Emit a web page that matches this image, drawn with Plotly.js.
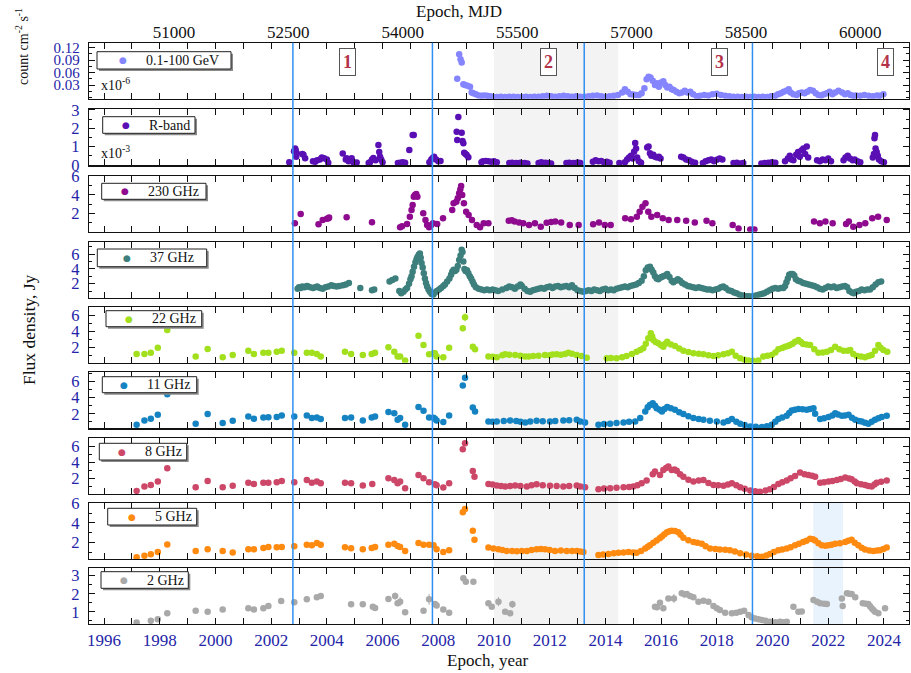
<!DOCTYPE html>
<html><head><meta charset="utf-8">
<script src="https://cdn.plot.ly/plotly-3.0.1.min.js"></script>
<style>html,body{margin:0;padding:0;background:#fff}#chart{width:911px;height:673px}</style>
</head><body><div id="chart"></div>
<script>
// ---------- DATA (decimal year, flux) ----------
const seriesNames = ['0.1-100 GeV','R-band','230 GHz','37 GHz','22 GHz','11 GHz','8 GHz','5 GHz','2 GHz'];

const xGam = [2008.68,2008.75,2008.80,2008.84,2008.90,2008.96,2009.05,2009.14,2009.20,2009.26,2009.35,2009.45,2009.55,2009.65,2009.75,2009.85,2009.95,2010.1,2010.25,2010.4,2010.55,2010.7,2010.85,2011.0,2011.15,2011.3,2011.45,2011.6,2011.75,2011.9,2012.05,2012.2,2012.35,2012.5,2012.65,2012.8,2012.95,2013.1,2013.25,2013.4,2013.55,2013.7,2013.85,2014.0,2014.15,2014.3,2014.45,2014.6,2014.7,2014.8,2014.9,2015.0,2015.1,2015.2,2015.3,2015.4,2015.48,2015.55,2015.62,2015.7,2015.78,2015.85,2015.92,2016.0,2016.08,2016.15,2016.22,2016.3,2016.38,2016.45,2016.55,2016.65,2016.75,2016.85,2016.95,2017.05,2017.15,2017.28,2017.4,2017.55,2017.7,2017.85,2018.0,2018.15,2018.3,2018.45,2018.6,2018.75,2018.9,2019.05,2019.2,2019.35,2019.5,2019.65,2019.8,2019.95,2020.1,2020.2,2020.3,2020.4,2020.5,2020.58,2020.65,2020.75,2020.87,2020.95,2021.05,2021.15,2021.25,2021.35,2021.45,2021.55,2021.65,2021.75,2021.85,2021.95,2022.05,2022.15,2022.25,2022.37,2022.5,2022.6,2022.7,2022.8,2022.9,2023.0,2023.15,2023.3,2023.45,2023.6,2023.75,2023.85,2023.98];
const yGam = [0.045,0.104,0.092,0.084,0.032,0.030,0.028,0.026,0.012,0.010,0.008,0.005,0.004,0.005,0.004,0.003,0.002,0.001,0.002,0.001,0.002,0.002,0.001,0.001,0.002,0.001,0.002,0.002,0.003,0.004,0.003,0.002,0.003,0.004,0.003,0.002,0.003,0.002,0.002,0.003,0.004,0.005,0.003,0.002,0.003,0.004,0.006,0.012,0.020,0.014,0.008,0.007,0.006,0.006,0.010,0.022,0.044,0.050,0.048,0.040,0.030,0.034,0.026,0.036,0.039,0.030,0.024,0.026,0.020,0.018,0.014,0.010,0.012,0.016,0.012,0.014,0.008,0.003,0.004,0.006,0.005,0.008,0.009,0.006,0.004,0.003,0.002,0.002,0.001,0.002,0.001,0.002,0.001,0.002,0.001,0.003,0.004,0.008,0.010,0.014,0.016,0.020,0.012,0.008,0.006,0.010,0.012,0.010,0.014,0.018,0.016,0.010,0.006,0.005,0.008,0.010,0.014,0.008,0.012,0.016,0.012,0.008,0.010,0.006,0.004,0.005,0.004,0.006,0.004,0.003,0.005,0.004,0.008];

const xR = [2002.65,2002.82,2002.86,2002.88,2002.9,2002.92,2003.12,2003.16,2003.22,2003.5,2003.58,2003.65,2003.75,2003.82,2003.9,2004.0,2004.05,2004.57,2004.68,2004.71,2004.78,2004.89,2004.95,2005.07,2005.5,2005.55,2005.62,2005.67,2005.75,2005.85,2005.88,2005.91,2005.95,2006.0,2006.55,2006.63,2006.72,2006.81,2006.96,2007.08,2007.12,2007.68,2007.75,2007.8,2007.85,2007.92,2008.0,2008.08,2008.66,2008.68,2008.72,2008.84,2008.87,2008.9,2008.93,2008.98,2009.02,2009.08,2009.55,2009.6,2009.7,2009.8,2009.9,2010.0,2010.1,2010.55,2010.65,2010.8,2010.95,2011.1,2011.2,2011.6,2011.7,2011.85,2011.95,2012.05,2012.6,2012.7,2012.85,2013.0,2013.1,2013.55,2013.65,2013.75,2013.85,2013.95,2014.05,2014.15,2014.5,2014.7,2014.78,2014.85,2014.92,2014.98,2015.03,2015.07,2015.1,2015.14,2015.2,2015.28,2015.5,2015.55,2015.6,2015.65,2015.72,2015.78,2015.85,2015.92,2015.98,2016.72,2016.8,2016.9,2017.0,2017.1,2017.22,2017.5,2017.6,2017.7,2017.8,2017.9,2018.0,2018.1,2018.2,2018.6,2018.72,2018.85,2018.95,2019.6,2019.72,2019.85,2019.98,2020.1,2020.45,2020.55,2020.62,2020.68,2020.75,2020.85,2020.92,2020.98,2021.05,2021.11,2021.17,2021.23,2021.28,2021.6,2021.7,2021.8,2021.9,2022.0,2022.1,2022.55,2022.62,2022.7,2022.78,2022.88,2022.95,2023.05,2023.15,2023.6,2023.64,2023.66,2023.68,2023.7,2023.74,2023.78,2023.82,2023.9,2024.0];
const yR = [0.15,0.75,0.9,0.8,0.45,0.64,0.6,0.55,0.36,0.2,0.18,0.25,0.3,0.4,0.36,0.3,0.12,0.63,0.3,0.36,0.2,0.36,0.15,0.13,0.1,0.15,0.3,0.38,0.25,1.09,0.7,0.45,0.3,0.15,0.1,0.12,0.14,0.12,0.82,1.63,1.63,0.15,0.3,0.38,0.45,0.3,0.2,0.22,1.81,1.36,2.62,1.76,1.3,1.18,0.67,0.6,0.54,0.42,0.15,0.2,0.22,0.2,0.18,0.2,0.15,0.1,0.12,0.1,0.12,0.1,0.08,0.1,0.14,0.12,0.1,0.08,0.1,0.12,0.1,0.13,0.1,0.18,0.25,0.2,0.22,0.15,0.18,0.12,0.1,0.15,0.3,0.4,0.5,0.35,0.72,1.2,0.9,0.4,0.2,0.12,0.95,1.0,0.64,0.5,0.55,0.45,0.4,0.45,0.35,0.45,0.4,0.3,0.25,0.18,0.12,0.1,0.2,0.25,0.3,0.2,0.28,0.35,0.3,0.1,0.12,0.08,0.1,0.08,0.1,0.12,0.15,0.12,0.2,0.35,0.5,0.3,0.25,0.55,0.7,0.45,0.8,0.9,0.6,1.0,0.4,0.25,0.2,0.3,0.25,0.35,0.2,0.25,0.4,0.5,0.35,0.25,0.3,0.2,0.15,0.4,0.6,1.45,1.63,0.9,0.7,0.5,0.3,0.2,0.15];

const x230 = [2002.85,2003.06,2003.7,2003.85,2004.0,2004.06,2004.08,2004.71,2005.62,2006.63,2006.7,2006.88,2006.98,2007.04,2007.08,2007.12,2007.16,2007.21,2007.25,2007.46,2007.54,2007.6,2007.67,2007.74,2007.81,2007.96,2008.17,2008.5,2008.55,2008.65,2008.7,2008.75,2008.79,2008.82,2008.86,2008.92,2009.0,2009.09,2009.21,2009.38,2009.5,2009.63,2009.8,2010.53,2010.64,2010.74,2010.9,2011.05,2011.26,2011.47,2011.68,2011.89,2012.05,2012.2,2012.41,2012.72,2013.04,2013.56,2013.77,2013.98,2014.19,2014.71,2014.92,2015.13,2015.23,2015.33,2015.44,2015.54,2015.65,2015.86,2016.06,2016.27,2016.58,2016.9,2017.21,2017.63,2017.84,2018.57,2018.78,2019.2,2019.35,2021.49,2021.7,2021.9,2022.16,2022.64,2022.74,2022.9,2023.12,2023.33,2023.58,2023.79,2024.1];
const y230 = [0.92,1.93,0.8,1.28,1.4,1.46,1.55,1.57,1.02,0.48,0.6,0.84,1.64,2.37,2.9,3.82,4.0,4.1,3.8,2.0,1.28,0.73,0.48,0.7,0.92,0.84,1.46,2.37,3.1,3.27,3.64,4.19,4.6,4.98,4.0,3.1,2.18,1.82,1.28,0.73,0.48,0.92,0.92,1.2,1.25,1.1,1.0,0.92,0.73,0.92,0.55,0.98,1.05,1.1,1.0,0.73,0.73,0.8,1.0,0.73,0.73,1.46,1.37,1.64,2.18,2.73,3.1,2.18,1.64,1.82,1.46,1.28,1.28,1.2,1.0,1.2,0.92,0.73,0.36,0.25,0.25,1.1,0.92,1.1,0.92,0.84,1.1,0.55,0.73,0.92,1.46,1.64,1.28];

const x37 = [2002.95,2003.0,2003.06,2003.12,2003.2,2003.28,2003.33,2003.4,2003.5,2003.58,2003.65,2003.75,2003.85,2003.95,2004.05,2004.16,2004.25,2004.35,2004.45,2004.58,2004.68,2004.79,2005.2,2005.62,2005.7,2006.25,2006.35,2006.46,2006.6,2006.67,2006.75,2006.82,2006.88,2006.95,2007.0,2007.04,2007.08,2007.13,2007.18,2007.22,2007.25,2007.3,2007.34,2007.37,2007.4,2007.44,2007.48,2007.52,2007.56,2007.6,2007.65,2007.7,2007.76,2007.82,2007.88,2007.95,2008.03,2008.1,2008.18,2008.24,2008.32,2008.4,2008.46,2008.5,2008.55,2008.6,2008.65,2008.7,2008.75,2008.8,2008.84,2008.87,2008.9,2008.94,2008.98,2009.03,2009.08,2009.13,2009.18,2009.23,2009.28,2009.35,2009.45,2009.55,2009.65,2009.75,2009.85,2009.95,2010.05,2010.15,2010.3,2010.45,2010.55,2010.65,2010.75,2010.85,2010.95,2011.0,2011.1,2011.2,2011.3,2011.4,2011.5,2011.6,2011.7,2011.8,2011.9,2012.0,2012.1,2012.2,2012.3,2012.4,2012.5,2012.6,2012.7,2012.8,2012.9,2013.0,2013.1,2013.2,2013.3,2013.4,2013.5,2013.6,2013.7,2013.8,2013.9,2014.0,2014.1,2014.2,2014.3,2014.4,2014.5,2014.6,2014.7,2014.8,2014.9,2015.0,2015.1,2015.2,2015.3,2015.38,2015.45,2015.52,2015.6,2015.66,2015.72,2015.78,2015.84,2015.9,2015.96,2016.02,2016.08,2016.15,2016.22,2016.3,2016.38,2016.44,2016.52,2016.6,2016.68,2016.76,2016.86,2016.96,2017.04,2017.15,2017.25,2017.35,2017.45,2017.55,2017.65,2017.75,2017.85,2017.95,2018.05,2018.15,2018.23,2018.32,2018.42,2018.52,2018.62,2018.71,2018.82,2018.92,2019.02,2019.12,2019.2,2019.3,2019.4,2019.5,2019.6,2019.7,2019.8,2019.9,2020.0,2020.1,2020.2,2020.3,2020.39,2020.45,2020.5,2020.55,2020.6,2020.66,2020.72,2020.78,2020.84,2020.92,2021.0,2021.1,2021.2,2021.3,2021.4,2021.5,2021.6,2021.7,2021.8,2021.9,2022.0,2022.1,2022.2,2022.3,2022.4,2022.5,2022.6,2022.68,2022.76,2022.85,2022.92,2023.0,2023.1,2023.2,2023.3,2023.4,2023.5,2023.6,2023.7,2023.8,2023.9];
const y37 = [1.3,1.5,1.4,1.6,1.5,1.7,1.6,1.5,1.4,1.5,1.6,1.4,1.3,1.5,1.6,1.8,1.7,1.6,1.7,1.8,1.9,2.1,1.4,1.1,1.2,2.3,2.5,2.7,1.0,0.7,0.9,1.2,1.4,2.0,2.6,3.0,3.6,4.3,4.9,5.3,5.6,5.9,6.1,5.5,4.8,4.2,3.4,2.7,2.1,1.6,1.2,0.9,0.6,0.5,0.8,1.0,1.2,1.4,1.7,1.9,2.3,2.7,3.2,3.6,3.9,3.7,3.9,4.4,5.2,5.8,6.6,6.3,5.0,4.0,3.7,3.8,3.4,3.0,2.7,2.3,1.9,1.5,1.3,1.2,1.1,1.2,1.1,1.2,1.1,1.0,1.2,1.4,1.6,1.5,1.3,1.6,1.9,1.7,1.3,1.0,0.9,1.1,1.2,1.3,1.4,1.3,1.5,1.6,1.4,1.6,1.7,1.5,1.6,1.7,1.5,1.8,1.4,1.1,1.0,0.9,1.0,1.1,1.0,1.2,1.1,1.0,1.2,1.3,1.1,1.2,1.1,1.3,1.4,1.5,1.6,1.5,1.7,1.8,1.9,2.1,2.4,3.0,3.8,4.2,4.3,3.9,3.5,3.0,2.7,2.6,2.8,2.9,3.0,3.1,3.3,2.9,2.4,2.2,2.4,2.6,2.4,2.1,1.9,1.7,1.6,1.5,1.4,1.5,1.4,1.3,1.2,1.2,1.1,1.2,1.3,1.5,1.6,1.4,1.1,1.0,0.8,0.7,0.5,0.4,0.3,0.3,0.25,0.3,0.4,0.5,0.6,0.7,0.9,1.1,1.3,1.4,1.3,1.4,1.4,1.7,2.2,2.7,3.2,3.3,3.3,3.1,2.6,2.4,2.3,2.1,2.0,1.9,1.8,1.7,1.5,1.3,1.2,1.4,1.6,1.5,1.6,1.4,1.5,1.6,1.7,1.5,1.0,0.8,0.7,0.9,1.0,1.2,1.1,1.2,1.2,1.5,1.9,2.2,2.3];

const x22 = [1997.17,1997.45,1997.68,1997.93,1998.27,1999.29,1999.72,2000.26,2000.62,2001.18,2001.38,2001.72,2001.9,2002.2,2002.38,2002.83,2003.28,2003.46,2003.64,2003.78,2004.65,2004.87,2005.29,2005.61,2005.73,2006.21,2006.42,2006.54,2006.63,2006.81,2007.29,2007.47,2007.67,2007.83,2007.88,2007.94,2008.18,2008.39,2008.88,2008.96,2009.24,2009.32,2009.8,2009.95,2010.1,2010.3,2010.4,2010.55,2010.76,2010.95,2011.12,2011.25,2011.41,2011.6,2011.83,2012.0,2012.1,2012.25,2012.4,2012.55,2012.67,2012.8,2012.97,2013.15,2013.33,2014.05,2014.2,2014.4,2014.6,2014.76,2014.95,2015.12,2015.25,2015.36,2015.45,2015.54,2015.63,2015.68,2015.72,2015.8,2015.9,2016.0,2016.08,2016.15,2016.22,2016.35,2016.5,2016.65,2016.8,2016.98,2017.16,2017.35,2017.52,2017.7,2017.88,2018.05,2018.24,2018.4,2018.54,2018.68,2018.84,2019.0,2019.14,2019.3,2019.49,2019.67,2019.82,2019.97,2020.1,2020.21,2020.35,2020.45,2020.55,2020.63,2020.72,2020.81,2020.93,2021.02,2021.1,2021.22,2021.35,2021.5,2021.65,2021.8,2021.95,2022.1,2022.25,2022.4,2022.55,2022.7,2022.79,2022.9,2023.03,2023.18,2023.32,2023.45,2023.56,2023.68,2023.8,2023.88,2023.98,2024.12];
const y22 = [1.21,1.21,1.38,2.0,4.2,0.88,1.84,0.8,1.09,1.63,1.21,1.38,1.38,1.5,1.63,1.38,1.38,1.38,1.21,0.88,1.5,1.21,1.09,1.21,1.38,2.05,1.5,0.88,0.88,0.38,3.5,2.34,1.17,1.3,1.3,0.88,0.8,2.0,4.43,5.8,2.13,1.8,0.88,0.85,0.8,1.05,1.17,1.1,1.09,1.0,0.88,0.9,0.96,1.0,1.09,1.05,1.15,1.17,1.1,1.2,1.38,1.25,1.09,0.95,0.75,0.67,0.7,0.67,0.8,0.96,1.2,1.5,1.7,1.92,2.5,3.17,3.8,3.4,2.96,2.7,2.55,2.3,2.13,2.5,2.75,2.4,2.2,1.9,1.63,1.45,1.3,1.25,1.17,1.05,0.96,1.05,1.17,1.3,1.5,1.0,0.67,0.5,0.38,0.35,0.38,0.88,1.0,1.09,1.4,1.8,1.95,2.13,2.2,2.34,2.5,2.75,2.96,2.7,2.46,2.4,2.34,1.8,1.38,1.4,1.5,1.7,2.13,1.8,1.63,1.6,1.71,1.2,0.96,0.9,0.8,0.95,1.09,1.6,2.34,2.0,1.71,1.5];
const e22 = [0,0,0,0,0,0,0,0,0,0,0,0,0,0,0,0,0,0,0,0,0,0,0,0,0,0,0,0,0,0,0,0,0,0,0,0,0,0,0.4,0.5,0,0,0,0,0,0,0,0,0,0,0,0,0,0,0,0,0,0,0,0,0,0,0,0,0,0,0,0,0,0,0,0,0,0,0,0,0,0,0,0,0,0,0,0,0,0,0,0,0,0,0,0,0,0,0,0,0,0,0,0,0,0,0,0,0,0,0,0,0,0,0,0,0,0,0,0,0,0,0,0,0,0,0,0,0,0,0,0,0,0,0,0,0,0,0,0,0,0,0,0,0,0];

const x11 = [1997.17,1997.45,1997.68,1997.93,1998.27,1999.29,1999.72,2000.26,2000.62,2001.18,2001.38,2001.72,2001.9,2002.2,2002.38,2002.83,2003.28,2003.46,2003.64,2003.78,2004.65,2004.87,2005.29,2005.61,2005.73,2006.21,2006.42,2006.54,2006.63,2006.81,2007.29,2007.47,2007.67,2007.83,2007.88,2007.94,2008.18,2008.39,2008.88,2008.96,2009.24,2009.32,2009.8,2009.95,2010.1,2010.35,2010.58,2010.8,2010.95,2011.12,2011.3,2011.53,2011.75,2012.01,2012.2,2012.49,2012.7,2012.97,2013.1,2013.27,2013.75,2013.95,2014.17,2014.4,2014.65,2014.85,2015.07,2015.25,2015.43,2015.52,2015.6,2015.7,2015.78,2015.84,2015.95,2016.03,2016.12,2016.22,2016.35,2016.5,2016.65,2016.8,2016.98,2017.16,2017.35,2017.52,2017.75,2018.0,2018.24,2018.4,2018.54,2018.7,2018.84,2019.0,2019.2,2019.4,2019.62,2019.8,2019.97,2020.1,2020.21,2020.35,2020.51,2020.6,2020.69,2020.8,2020.93,2021.08,2021.23,2021.35,2021.47,2021.53,2021.71,2021.85,2022.01,2022.15,2022.25,2022.35,2022.49,2022.6,2022.73,2022.85,2022.97,2023.1,2023.2,2023.32,2023.44,2023.56,2023.68,2023.8,2023.92,2024.1];
const y11 = [0.64,1.17,1.38,1.88,4.43,0.77,1.96,0.85,1.14,1.67,1.38,1.54,1.58,1.59,1.8,1.67,1.8,1.47,1.55,1.34,1.47,1.55,1.17,1.55,1.67,2.21,2.08,1.26,1.47,0.64,2.83,2.37,1.54,1.5,1.38,1.17,0.98,1.8,5.5,6.48,2.78,2.28,1.05,1.02,1.05,1.1,1.17,1.1,1.0,0.93,1.05,1.14,1.08,1.05,1.1,1.17,1.2,1.26,1.05,0.93,0.64,0.72,0.77,0.85,0.93,1.0,1.05,1.47,2.28,2.8,3.1,3.32,3.0,2.7,2.5,2.28,2.6,2.83,2.7,2.49,2.2,1.96,1.7,1.47,1.35,1.26,1.15,1.05,0.93,1.1,1.34,1.0,0.77,0.6,0.43,0.38,0.36,0.45,0.64,1.0,1.34,1.55,1.75,2.1,2.41,2.5,2.58,2.55,2.49,2.6,2.7,2.0,1.34,1.45,1.59,1.8,2.08,1.9,1.75,1.8,1.88,1.5,1.26,1.1,1.05,0.9,0.77,1.0,1.26,1.45,1.59,1.75];

const x8 = [1997.17,1997.45,1997.68,1997.93,1998.27,1999.29,1999.72,2000.26,2000.62,2001.18,2001.38,2001.72,2001.9,2002.2,2002.38,2002.83,2003.28,2003.46,2003.64,2003.78,2004.65,2004.87,2005.29,2005.63,2006.21,2006.42,2006.54,2006.63,2006.81,2007.29,2007.47,2007.67,2007.88,2007.94,2008.18,2008.39,2008.88,2008.96,2009.24,2009.3,2009.8,2009.95,2010.1,2010.25,2010.4,2010.58,2010.76,2010.95,2011.18,2011.35,2011.53,2011.75,2012.01,2012.25,2012.49,2012.7,2012.97,2013.1,2013.27,2013.75,2013.95,2014.17,2014.4,2014.65,2014.85,2015.0,2015.15,2015.3,2015.48,2015.7,2015.78,2015.96,2016.08,2016.18,2016.26,2016.38,2016.48,2016.56,2016.68,2016.8,2016.98,2017.16,2017.35,2017.52,2017.7,2017.88,2018.05,2018.24,2018.4,2018.54,2018.7,2018.84,2019.0,2019.2,2019.38,2019.55,2019.75,2019.91,2020.05,2020.21,2020.35,2020.51,2020.65,2020.81,2020.99,2021.15,2021.29,2021.42,2021.53,2021.71,2021.85,2022.01,2022.15,2022.31,2022.45,2022.61,2022.75,2022.84,2022.95,2023.03,2023.18,2023.32,2023.44,2023.56,2023.66,2023.74,2023.9,2024.1];
const y8 = [0.39,0.94,1.15,1.57,3.27,0.86,1.66,0.86,1.03,1.44,1.28,1.44,1.44,1.49,1.66,1.49,1.78,1.44,1.57,1.36,1.44,1.36,1.07,1.28,2.0,1.78,1.36,1.57,0.73,2.42,2.0,1.49,1.24,1.1,0.81,1.36,5.67,6.43,2.92,2.2,1.28,1.2,1.07,1.0,0.94,1.0,1.07,1.0,0.94,1.1,1.24,1.1,1.03,1.0,0.94,1.0,1.07,0.95,0.86,0.61,0.7,0.73,0.8,0.86,0.9,0.94,1.1,1.36,1.7,2.5,2.84,2.42,3.05,3.3,3.47,3.05,3.1,2.96,2.5,2.2,1.8,1.57,1.7,1.78,1.4,1.15,1.1,1.03,1.2,1.36,1.1,0.86,0.65,0.43,0.35,0.3,0.45,0.61,0.9,1.28,1.5,1.7,2.0,2.29,2.71,2.5,2.42,2.3,2.2,1.44,1.5,1.57,1.65,1.78,1.9,2.08,1.95,1.87,1.6,1.36,1.25,1.15,1.0,0.94,1.2,1.44,1.55,1.7];

const x5 = [1997.17,1997.45,1997.68,1997.93,1998.27,1999.29,1999.72,2000.26,2000.62,2001.18,2001.38,2001.72,2001.9,2002.2,2002.38,2002.83,2003.28,2003.46,2003.64,2003.78,2004.65,2004.87,2005.29,2005.61,2005.73,2006.21,2006.42,2006.54,2006.63,2006.81,2007.29,2007.47,2007.67,2007.83,2007.94,2008.18,2008.39,2008.88,2008.96,2009.24,2009.3,2009.8,2009.98,2010.16,2010.3,2010.46,2010.65,2010.82,2011.0,2011.18,2011.35,2011.53,2011.68,2011.83,2012.0,2012.19,2012.4,2012.61,2012.8,2012.97,2013.1,2013.21,2013.75,2013.92,2014.11,2014.3,2014.47,2014.65,2014.83,2015.0,2015.12,2015.28,2015.43,2015.52,2015.6,2015.72,2015.84,2015.95,2016.03,2016.12,2016.21,2016.3,2016.38,2016.5,2016.62,2016.7,2016.8,2016.98,2017.16,2017.3,2017.46,2017.6,2017.76,2017.95,2018.11,2018.3,2018.47,2018.65,2018.84,2019.05,2019.25,2019.45,2019.62,2019.78,2019.91,2020.05,2020.21,2020.35,2020.51,2020.65,2020.81,2020.95,2021.1,2021.22,2021.35,2021.45,2021.53,2021.65,2021.77,2021.9,2022.01,2022.12,2022.25,2022.42,2022.61,2022.72,2022.84,2022.95,2023.08,2023.2,2023.32,2023.48,2023.62,2023.75,2023.86,2023.98,2024.1];
const y5 = [0.52,0.68,0.82,1.07,1.83,1.17,1.34,1.17,1.01,1.34,1.34,1.47,1.57,1.53,1.57,1.64,1.8,1.74,1.96,1.8,1.53,1.44,1.34,1.47,1.57,1.8,1.9,1.67,1.57,1.17,1.96,1.8,1.8,1.73,1.34,1.07,1.24,5.08,5.41,3.21,2.3,1.51,1.42,1.34,1.25,1.17,1.15,1.14,1.15,1.17,1.25,1.34,1.35,1.34,1.25,1.17,1.2,1.17,1.15,1.17,1.1,1.07,0.75,0.8,0.85,0.92,0.98,1.02,1.07,1.0,0.98,1.15,1.41,1.6,1.73,2.0,2.23,2.45,2.62,2.85,3.05,3.15,3.21,3.18,3.05,2.8,2.49,2.25,2.06,2.0,1.9,1.65,1.41,1.35,1.31,1.28,1.24,1.1,0.92,0.8,0.68,0.62,0.58,0.7,0.85,1.05,1.24,1.3,1.41,1.55,1.73,1.9,2.06,2.2,2.39,2.35,2.23,1.95,1.73,1.7,1.73,1.8,1.9,1.95,2.06,2.2,2.3,2.0,1.73,1.5,1.31,1.2,1.17,1.2,1.24,1.35,1.51];

const x2 = [1997.17,1997.68,1997.93,1998.27,1999.29,1999.72,2000.26,2001.18,2001.38,2001.72,2001.9,2002.36,2002.83,2003.28,2003.64,2003.78,2004.87,2005.29,2005.65,2005.73,2006.21,2006.45,2006.54,2006.63,2006.81,2007.47,2007.67,2007.88,2007.94,2008.18,2008.39,2008.9,2008.99,2009.26,2009.8,2009.92,2010.16,2010.4,2010.58,2010.66,2015.78,2015.85,2015.96,2016.08,2016.26,2016.46,2016.74,2016.85,2016.92,2017.04,2017.16,2017.34,2017.52,2017.7,2017.88,2018.0,2018.11,2018.3,2018.54,2018.7,2018.84,2018.98,2019.14,2019.25,2019.38,2019.5,2019.62,2019.75,2019.91,2020.1,2020.27,2020.4,2020.51,2020.75,2020.93,2021.05,2021.47,2021.6,2021.71,2021.85,2021.95,2022.49,2022.52,2022.67,2022.76,2022.84,2022.97,2023.24,2023.35,2023.44,2023.5,2023.56,2023.62,2023.68,2023.8,2024.04];
const y2 = [0.41,0.5,0.59,0.91,1.06,1.0,1.13,1.19,1.13,1.19,1.32,1.59,1.52,1.69,1.8,1.87,1.41,1.41,1.28,1.21,1.71,1.87,1.47,1.56,0.97,1.06,1.69,1.43,1.34,1.13,0.94,2.86,2.67,2.67,1.47,1.28,1.56,1.0,0.91,1.41,1.28,1.25,1.5,1.19,1.74,1.74,2.02,1.95,1.98,1.87,1.8,1.56,1.61,1.56,1.32,1.2,1.09,0.94,0.91,0.95,1.0,1.06,0.82,0.7,0.63,0.58,0.54,0.5,0.44,0.42,0.44,0.42,0.44,1.28,1.0,1.02,1.65,1.55,1.47,1.45,1.43,1.74,1.32,2.02,2.0,1.98,1.8,1.47,1.45,1.43,1.3,1.19,1.1,1.0,0.91,1.19];
const e2 = [0,0,0,0,0,0,0,0,0,0,0,0,0,0,0,0,0,0,0,0,0,0.2,0,0.25,0,0,0.3,0,0,0,0,0,0,0,0,0,0.25,0,0,0.2,0,0,0,0,0,0.25,0,0,0,0.15,0,0,0,0,0,0,0,0,0,0,0,0,0,0,0,0,0,0,0,0,0,0,0,0,0,0,0,0,0,0,0,0,0,0,0,0,0,0,0,0,0,0,0,0,0,0];

// top axis (MJD) tick values
const mjdTicks = [51000, 52500, 54000, 55500, 57000, 58500, 60000];
// activity-period boundaries (year) and shaded periods
const periodLines = [2002.78, 2007.79, 2013.24, 2019.28];
const greyBand = [2010.0, 2014.46];
const blueBand = [2021.46, 2022.53];
const periodLabels = ['1','2','3','4'];
const periodLabelX = [2004.73, 2011.94, 2018.08, 2024.04];

// ---------- STYLE ----------
const colors = ['#8585ff','#5a0fb4','#8e0a8e','#3d7f7c','#a2e01e','#1583c2','#cc4768','#ff8a10','#a9a9a9'];
const xs = [xGam,xR,x230,x37,x22,x11,x8,x5,x2];
const ys = [yGam,yR,y230,y37,y22,y11,y8,y5,y2];
const errs = [null,null,null,null,e22,null,null,null,e2];

const FONT = 'Liberation Serif, Times New Roman, serif';
const BLUE = '#2424a8';
const H = 673, T = 42, B = 49;
const plotH = H - T - B;
const pix = [[42.7,98.7],[108.7,165.3],[176,231.7],[242.3,297.7],[307.3,362.7],[372.3,428.3],[438.3,494],[502.7,559],[568.3,624]];
const py = p => (H - B - p) / plotH;
const yRanges = [[-0.003,0.132],[-0.02,3.07],[0,6.07],[0.1,7.6],[0.12,7.05],[0.2,7.15],[0,7.06],[0.35,6.05],[0.32,3.41]];
const yTicks = [[0.03,0.06,0.09,0.12],[0,1,2,3],[2,4,6],[2,4,6],[2,4,6],[2,4,6],[2,4,6],[2,4,6],[1,2,3]];
const yMinor = [0.015,0.5,1,1,1,1,1,1,0.5];
// legend boxes: [left, top, right, bottom] in pixels
const legBox = [[97,51.7,231,69],[102.7,116.7,195,133.3],[101.7,183.3,206,199.3],[97.3,249,206.7,266.7],[106,310.7,201.7,326.7],[102.3,376.7,196.7,392.7],[99.3,443.3,186.7,460],[107.7,508.3,196.7,525],[101,571.7,188.3,588.3]];
const legMarkX = [123,126,125,126.7,129,124.3,121.7,131.7,124];
const L = 89, W = 820;
const px = p => (p - L) / W;
const yearRange = [1995.46, 2024.9];
const mjdRange = [49885.8, 60638.7];

const traces = [];
const layout = {
  width: 911, height: 673,
  margin: {l: L, r: 911 - L - W, t: T, b: B},
  paper_bgcolor: '#fff', plot_bgcolor: 'rgba(0,0,0,0)',
  font: {family: FONT, color: '#111', size: 14},
  showlegend: false,
  shapes: [], annotations: []
};

for (let i = 0; i < 9; i++) {
  const n = i === 0 ? '' : String(i + 1);
  const tr = {
    type: 'scatter', mode: 'markers', x: xs[i], y: ys[i],
    xaxis: 'x' + n, yaxis: 'y' + n, name: seriesNames[i],
    marker: {color: colors[i], size: 6.5, line: {width: 0}},
    hoverinfo: 'x+y'
  };
  if (errs[i]) tr.error_y = {type: 'data', array: errs[i], visible: true, color: colors[i], thickness: 1, width: 0};
  traces.push(tr);

  layout['xaxis' + n] = {
    domain: [0, 1], anchor: 'y' + n, range: yearRange, autorange: false,
    showline: true, linecolor: '#111', linewidth: 1.2, mirror: 'ticks',
    ticks: 'inside', ticklen: 6, tickwidth: 1, tickcolor: '#111',
    tick0: 1996, dtick: 2,
    minor: {dtick: 1, ticks: 'inside', ticklen: 6, tickwidth: 1, tickcolor: '#111'},
    showgrid: false, zeroline: false,
    showticklabels: i === 8,
    tickfont: {family: FONT, size: 17, color: BLUE}
  };
  layout['yaxis' + n] = {
    domain: [py(pix[i][1]), py(pix[i][0])], anchor: 'x' + n,
    range: yRanges[i], autorange: false,
    showline: true, linecolor: '#111', linewidth: 1.2, mirror: 'ticks',
    ticks: 'inside', ticklen: 6, tickwidth: 1, tickcolor: '#111',
    tickvals: yTicks[i], ticklabelstandoff: 5,
    minor: {dtick: yMinor[i], ticks: 'inside', ticklen: 3, tickwidth: 1, tickcolor: '#111'},
    showgrid: false, zeroline: false,
    tickfont: {family: FONT, size: i === 0 ? 15 : 16.5, color: BLUE}
  };

  // legend box (shadow + frame), marker glyph and label
  const b = legBox[i];
  layout.shapes.push({type: 'rect', xref: 'paper', yref: 'paper',
    x0: px(b[0] + 2), x1: px(b[2] + 2), y0: py(b[3] + 2), y1: py(b[1] + 2),
    fillcolor: '#8a8a8a', line: {width: 0}, layer: 'above'});
  layout.shapes.push({type: 'rect', xref: 'paper', yref: 'paper',
    x0: px(b[0]), x1: px(b[2]), y0: py(b[3]), y1: py(b[1]),
    fillcolor: '#ffffff', line: {color: '#222', width: 1}, layer: 'above'});
  const midY = py((b[1] + b[3]) / 2);
  layout.annotations.push({text: '●', xref: 'paper', yref: 'paper', x: px(legMarkX[i]), y: midY,
    xanchor: 'center', yanchor: 'middle', showarrow: false,
    font: {family: 'DejaVu Sans, sans-serif', size: 9, color: colors[i]}});
  layout.annotations.push({text: seriesNames[i], xref: 'paper', yref: 'paper', x: px(legMarkX[i] + 21), y: midY,
    xanchor: 'left', yanchor: 'middle', showarrow: false,
    font: {family: FONT, size: 14, color: '#111'}});
}

// MJD top axis
traces.push({type: 'scatter', mode: 'markers', x: mjdTicks, y: mjdTicks.map(() => null),
  xaxis: 'x10', yaxis: 'y', showlegend: false, hoverinfo: 'skip'});
layout.xaxis10 = {
  overlaying: 'x', side: 'top', anchor: 'y', range: mjdRange, autorange: false,
  tickvals: mjdTicks, ticktext: mjdTicks.map(String), ticks: '', showline: false,
  showgrid: false, zeroline: false,
  tickfont: {family: FONT, size: 17, color: '#111'}
};

// shaded periods
layout.shapes.push({type: 'rect', xref: 'x', yref: 'paper', x0: greyBand[0], x1: greyBand[1],
  y0: 0, y1: py(pix[0][0]), fillcolor: '#f3f3f3', line: {width: 0}, layer: 'below'});
layout.shapes.push({type: 'rect', xref: 'x', yref: 'paper', x0: blueBand[0], x1: blueBand[1],
  y0: 0, y1: py(pix[7][0]), fillcolor: '#e9f3fd', line: {width: 0}, layer: 'below'});
periodLines.forEach(v => layout.shapes.push({type: 'line', xref: 'x', yref: 'paper',
  x0: v, x1: v, y0: 0, y1: py(pix[0][0]), line: {color: '#2f8ff0', width: 1.5}}));

// period numbers
periodLabels.forEach((t, k) => layout.annotations.push({
  text: '<b>' + t + '</b>', xref: 'x', yref: 'paper', x: periodLabelX[k], y: py(62),
  xanchor: 'center', yanchor: 'middle',
  showarrow: false, font: {family: FONT, size: 18, color: '#b3334a'},
  bgcolor: '#fff', bordercolor: '#555', borderwidth: 1, borderpad: 3
}));

// scale factors
layout.annotations.push({text: 'x10<sup>-6</sup>', xref: 'paper', yref: 'paper', x: px(99), y: py(84),
  xanchor: 'left', yanchor: 'middle', showarrow: false, font: {family: FONT, size: 14, color: '#111'}});
layout.annotations.push({text: 'x10<sup>-3</sup>', xref: 'paper', yref: 'paper', x: px(99), y: py(152),
  xanchor: 'left', yanchor: 'middle', showarrow: false, font: {family: FONT, size: 14, color: '#111'}});

// axis titles
layout.annotations.push({text: 'Epoch, year', xref: 'paper', yref: 'paper', x: px(488), y: py(660),
  xanchor: 'center', yanchor: 'middle', showarrow: false, font: {family: FONT, size: 17, color: '#111'}});
layout.annotations.push({text: 'Epoch, MJD', xref: 'paper', yref: 'paper', x: px(459), y: py(12),
  xanchor: 'center', yanchor: 'middle', showarrow: false, font: {family: FONT, size: 17, color: '#111'}});
layout.annotations.push({text: 'Flux density, Jy', xref: 'paper', yref: 'paper', x: px(29), y: py(330),
  xanchor: 'center', yanchor: 'middle', textangle: -90, showarrow: false, font: {family: FONT, size: 17.5, color: '#111'}});
layout.annotations.push({text: 'count cm<sup>-2</sup> s<sup>-1</sup>', xref: 'paper', yref: 'paper', x: px(22), y: py(47),
  xanchor: 'center', yanchor: 'middle', textangle: -90, showarrow: false, font: {family: FONT, size: 14, color: '#111'}});

Plotly.newPlot('chart', traces, layout, {displayModeBar: false, staticPlot: true});
</script>
</body></html>
